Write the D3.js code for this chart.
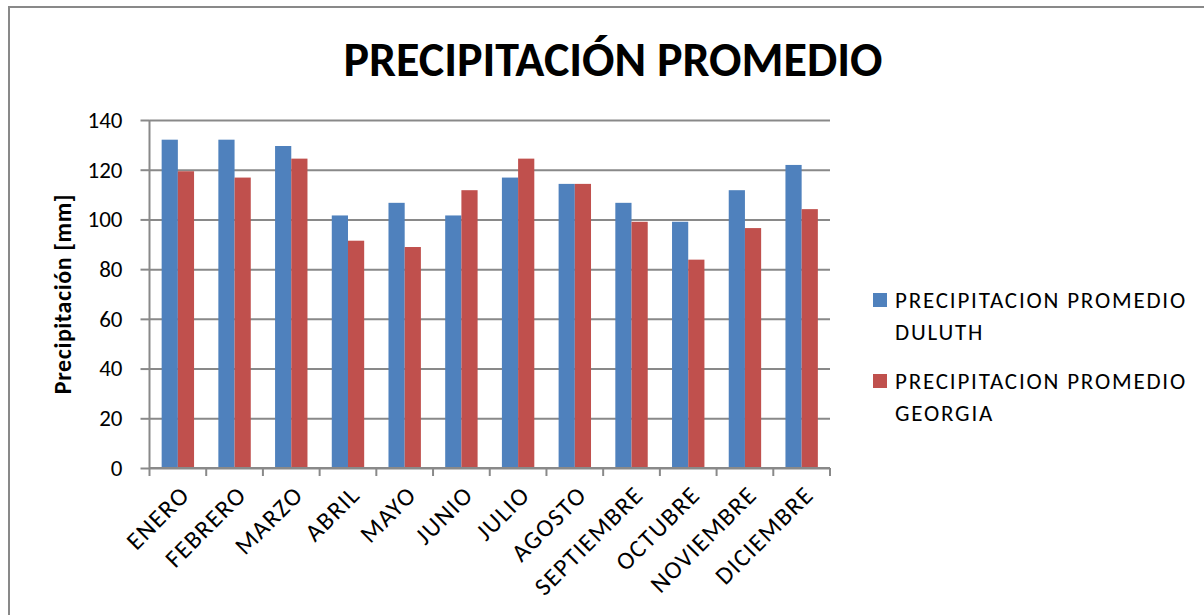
<!DOCTYPE html>
<html>
<head>
<meta charset="utf-8">
<script src="https://cdn.jsdelivr.net/npm/d3@7"></script>
<style>
  body { margin: 0; background: #fff; }
  text { font-family: Calibri, Carlito, Lato, sans-serif; }
</style>
</head>
<body>
<div id="chart"></div>
<script>
var w = 1204, h = 615;

// data (mm)
var months = ["ENERO", "FEBRERO", "MARZO", "ABRIL", "MAYO", "JUNIO", "JULIO", "AGOSTO", "SEPTIEMBRE", "OCTUBRE", "NOVIEMBRE", "DICIEMBRE"];
var duluth = [132.08, 132.08, 129.54, 101.6, 106.68, 101.6, 116.84, 114.3, 106.68, 99.06, 111.76, 121.92];
var georgia = [119.38, 116.84, 124.46, 91.44, 88.9, 111.76, 124.46, 114.3, 99.06, 83.82, 96.52, 104.14];
var seriesNames = ["PRECIPITACION PROMEDIO DULUTH", "PRECIPITACION PROMEDIO GEORGIA"];
var colors = ["#4F81BD", "#C0504D"];
var yTicks = [0, 20, 40, 60, 80, 100, 120, 140];

var plot = {left: 149.5, right: 830, top: 120, bottom: 468};
var gridColor = "#898989";

var svg = d3.select("#chart").append("svg")
    .attr("width", w)
    .attr("height", h);

svg.append("rect").attr("width", w).attr("height", h).attr("fill", "#fff");

// chart border (runs off right/bottom)
svg.append("rect")
    .attr("x", 9).attr("y", 7)
    .attr("width", w + 10).attr("height", h + 10)
    .attr("fill", "none")
    .attr("stroke", gridColor)
    .attr("stroke-width", 2);

var x = d3.scaleBand()
    .domain(months)
    .range([plot.left, plot.right])
    .paddingInner(0.4286)
    .paddingOuter(0.2143);

var x1 = d3.scaleBand()
    .domain([0, 1])
    .range([0, x.bandwidth()]);

var y = d3.scaleLinear()
    .domain([0, 140])
    .range([plot.bottom, plot.top]);

// gridlines
svg.append("g")
    .attr("transform", "translate(" + plot.left + ",0)")
    .call(d3.axisLeft(y).tickValues(yTicks).tickSize(-(plot.right - plot.left)).tickFormat(""))
    .call(function(g) {
      g.select(".domain").remove();
      g.selectAll("line").attr("stroke", gridColor).attr("stroke-width", 2);
    });

// bars
var rows = months.map(function(m, i) { return {month: m, vals: [duluth[i], georgia[i]]}; });

var groups = svg.append("g").selectAll("g")
    .data(rows)
    .enter().append("g")
    .attr("transform", function(d) { return "translate(" + x(d.month) + ",0)"; });

groups.selectAll("rect")
    .data(function(d) { return d.vals.map(function(v, k) { return {k: k, v: v}; }); })
    .enter().append("rect")
    .attr("x", function(d) { return x1(d.k); })
    .attr("y", function(d) { return y(d.v); })
    .attr("width", x1.bandwidth())
    .attr("height", function(d) { return y(0) - y(d.v); })
    .attr("fill", function(d) { return colors[d.k]; });

// y axis
var yAxis = svg.append("g")
    .attr("transform", "translate(" + plot.left + ",0)")
    .call(d3.axisLeft(y).tickValues(yTicks).tickSize(9).tickPadding(18));
yAxis.select(".domain").attr("stroke", gridColor).attr("stroke-width", 2).attr("d", "M0," + plot.top + "V" + plot.bottom);
yAxis.selectAll("line").attr("stroke", gridColor).attr("stroke-width", 2);
yAxis.selectAll("text").attr("font-size", 23).attr("fill", "#000");

// x axis: ticks on category boundaries
var step = x.step();
var bounds = d3.range(months.length + 1).map(function(i) { return plot.left + i * step; });
var xAxis = svg.append("g");
xAxis.append("line")
    .attr("x1", plot.left).attr("x2", plot.right)
    .attr("y1", plot.bottom).attr("y2", plot.bottom)
    .attr("stroke", gridColor).attr("stroke-width", 2);
xAxis.selectAll(".tk")
    .data(bounds)
    .enter().append("line")
    .attr("x1", function(d) { return d; }).attr("x2", function(d) { return d; })
    .attr("y1", plot.bottom).attr("y2", plot.bottom + 8)
    .attr("stroke", gridColor).attr("stroke-width", 2);

xAxis.selectAll("text")
    .data(months)
    .enter().append("text")
    .attr("transform", function(d) {
      return "translate(" + (x(d) + x.bandwidth() / 2 + 1) + "," + (plot.bottom + 16) + ") rotate(-45)";
    })
    .attr("text-anchor", "end")
    .attr("dy", "0.7em")
    .attr("font-size", 25)
    .attr("letter-spacing", 1.4)
    .text(function(d) { return d; });

// title
svg.append("text")
    .attr("x", 613).attr("y", 76)
    .attr("text-anchor", "middle")
    .attr("font-size", 48)
    .attr("font-weight", "bold")
    .text("PRECIPITACIÓN PROMEDIO");

// y label
svg.append("text")
    .attr("transform", "translate(71," + ((plot.top + plot.bottom) / 2) + ") rotate(-90)")
    .attr("text-anchor", "middle")
    .attr("font-size", 24)
    .attr("font-weight", "bold")
    .attr("letter-spacing", 0.6)
    .text("Precipitación [mm]");

// legend
var legend = svg.append("g").attr("transform", "translate(873,293)");
var entries = legend.selectAll("g")
    .data(seriesNames)
    .enter().append("g")
    .attr("transform", function(d, i) { return "translate(0," + (i * 81) + ")"; });
entries.append("rect")
    .attr("width", 14).attr("height", 14)
    .attr("fill", function(d, i) { return colors[i]; });
entries.append("text")
    .attr("x", 22).attr("y", 15)
    .attr("font-size", 23)
    .attr("letter-spacing", 1.8)
    .selectAll("tspan")
    .data(function(d) { var p = d.split(" "); return [p.slice(0, 2).join(" "), p[2]]; })
    .enter().append("tspan")
    .attr("x", 22)
    .attr("dy", function(d, i) { return i ? 32 : 0; })
    .text(function(d) { return d; });
</script>
</body>
</html>
